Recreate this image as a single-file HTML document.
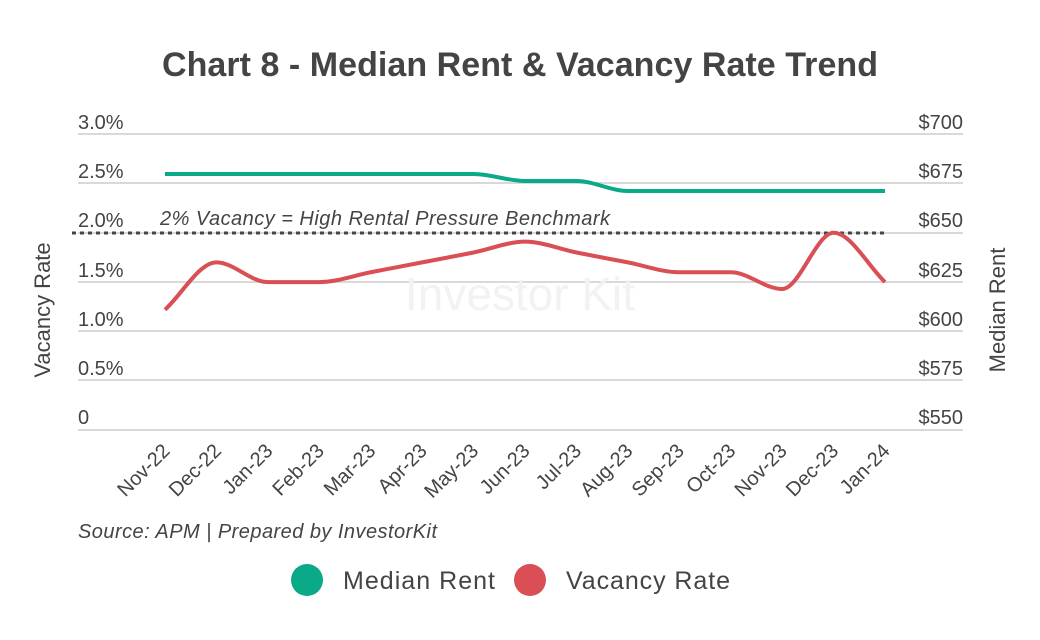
<!DOCTYPE html>
<html><head><meta charset="utf-8"><style>
body{margin:0;background:#fff}
svg{display:block;font-family:"Liberation Sans",sans-serif}
</style></head><body>
<svg id="s" width="1040" height="640" viewBox="0 0 1040 640">
<text x="520" y="76" text-anchor="middle" font-size="34" font-weight="bold" fill="#444" textLength="716">Chart 8 - Median Rent &amp; Vacancy Rate Trend</text>
<g stroke="#d9d9d9" stroke-width="2">
<line x1="78" x2="963" y1="134" y2="134"/><line x1="78" x2="963" y1="183" y2="183"/>
<line x1="78" x2="963" y1="233" y2="233"/><line x1="78" x2="963" y1="282" y2="282"/>
<line x1="78" x2="963" y1="331" y2="331"/><line x1="78" x2="963" y1="380" y2="380"/>
<line x1="78" x2="963" y1="430" y2="430"/></g>
<g font-size="20" fill="#444">
<text x="78" y="129">3.0%</text><text x="78" y="178">2.5%</text><text x="78" y="227">2.0%</text>
<text x="78" y="277">1.5%</text><text x="78" y="326">1.0%</text><text x="78" y="375">0.5%</text><text x="78" y="424">0</text>
<g text-anchor="end"><text x="963" y="129">$700</text><text x="963" y="178">$675</text><text x="963" y="227">$650</text>
<text x="963" y="277">$625</text><text x="963" y="326">$600</text><text x="963" y="375">$575</text><text x="963" y="424">$550</text></g>
</g>
<text transform="translate(50,310) rotate(-90)" text-anchor="middle" font-size="22" fill="#444">Vacancy Rate</text>
<text transform="translate(1005,310) rotate(-90)" text-anchor="middle" font-size="22" fill="#444">Median Rent</text>
<text x="520" y="310" text-anchor="middle" font-size="46" fill="#f2f2f2">Investor Kit</text>
<text x="160" y="225" font-size="20" font-style="italic" fill="#444" textLength="450">2% Vacancy = High Rental Pressure Benchmark</text>
<line x1="72" x2="885" y1="233" y2="233" stroke="#444" stroke-width="3" stroke-dasharray="4,4"/>
<path id="g" fill="none" stroke="#0aa987" stroke-width="4"/>
<path id="r" fill="none" stroke="#d94f55" stroke-width="4"/>
<g id="xl" font-size="20" fill="#444"></g>
<text x="78" y="538" font-size="20" font-style="italic" fill="#444" textLength="359">Source: APM | Prepared by InvestorKit</text>
<circle cx="307" cy="580" r="16" fill="#0aa987"/><text x="343" y="589" font-size="25" fill="#444" textLength="152">Median Rent</text>
<circle cx="530" cy="580" r="16" fill="#d94f55"/><text x="566" y="589" font-size="25" fill="#444" textLength="164">Vacancy Rate</text>
</svg>
<script>
var L=["Nov-22","Dec-22","Jan-23","Feb-23","Mar-23","Apr-23","May-23","Jun-23","Jul-23","Aug-23","Sep-23","Oct-23","Nov-23","Dec-23","Jan-24"];
var X=L.map(function(_,i){return 165+i*51.43});
var gy=[174,174,174,174,174,174,174,181,181,191,191,191,191,191,191];
var rv=[1.22,1.7,1.5,1.5,1.6,1.7,1.8,1.91,1.8,1.7,1.6,1.6,1.43,2.0,1.5];
var ry=rv.map(function(v){return 430-98.6*v});
function mono(xs,ys){var n=xs.length,d=[],m=[];for(var i=0;i<n-1;i++)d.push((ys[i+1]-ys[i])/(xs[i+1]-xs[i]));
m[0]=d[0];m[n-1]=d[n-2];for(i=1;i<n-1;i++){m[i]=(d[i-1]*d[i]<=0)?0:(d[i-1]+d[i])/2;}
var p="M"+xs[0]+","+ys[0];for(i=0;i<n-1;i++){var h=(xs[i+1]-xs[i])/3;
p+=" C"+(xs[i]+h)+","+(ys[i]+m[i]*h)+" "+(xs[i+1]-h)+","+(ys[i+1]-m[i+1]*h)+" "+xs[i+1]+","+ys[i+1];}return p;}
document.getElementById("g").setAttribute("d",mono(X,gy));
document.getElementById("r").setAttribute("d",mono(X,ry));
var g=document.getElementById("xl"),s="";
L.forEach(function(t,i){s+='<text text-anchor="end" transform="translate('+(X[i]+6)+',452) rotate(-45)">'+t+'</text>';});
g.innerHTML=s;
</script>
</body></html>
